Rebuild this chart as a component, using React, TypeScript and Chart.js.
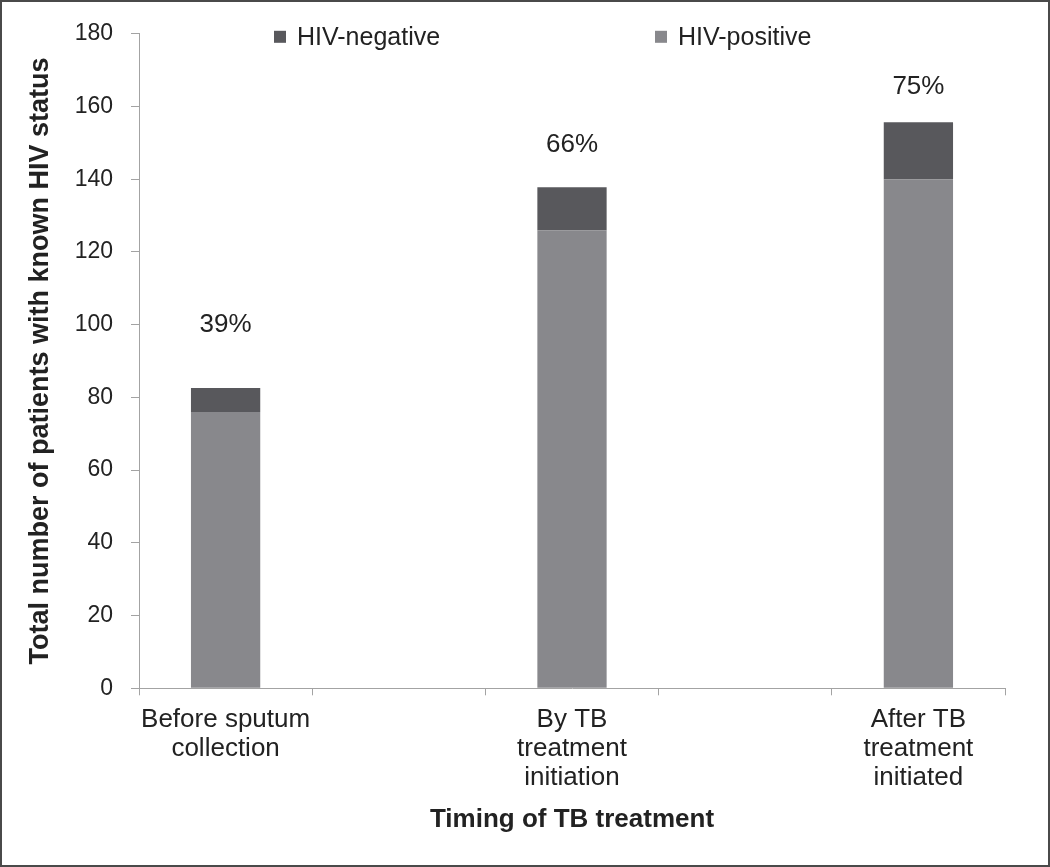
import React, { useEffect, useRef } from "react";
import { Chart, registerables } from "chart.js";

Chart.register(...registerables);

// ---- data ----
const categories: (string | string[])[] = [
  ["Before sputum", "collection"],
  "",
  ["By TB", "treatment", "initiation"],
  "",
  ["After TB", "treatment", "initiated"],
];
const hivPositive = [76, null, 126, null, 140];
const hivNegative = [6.6, null, 11.8, null, 15.7];
const percentLabels = ["39%", "", "66%", "", "75%"];
const percentLabelAt = [100, null, 149.6, null, 165.3];
const yMin = 0;
const yMax = 180;
const yStep = 20;

const POS_COLOR = "#88888c";
const NEG_COLOR = "#58585c";
const AXIS_COLOR = "#a3a3a3";
const TEXT_COLOR = "#222222";
const FONT = "'Liberation Sans', Arial, sans-serif";

const percentPlugin = {
  id: "percentLabels",
  afterDatasetsDraw(chart: any) {
    const { ctx, scales } = chart;
    ctx.save();
    ctx.font = `26px ${FONT}`;
    ctx.fillStyle = TEXT_COLOR;
    ctx.textAlign = "center";
    ctx.textBaseline = "middle";
    percentLabels.forEach((t, i) => {
      const v = percentLabelAt[i];
      if (!t || v == null) return;
      const x = scales.x.getPixelForValue(i);
      const y = scales.y.getPixelForValue(v);
      ctx.fillText(t, x, y);
    });
    ctx.restore();
  },
};

const legendPlugin = {
  id: "customLegend",
  afterDraw(chart: any) {
    const { ctx, chartArea } = chart;
    const ds = chart.data.datasets;
    const items = [
      { text: ds[1].label, color: ds[1].backgroundColor, dx: 135 },
      { text: ds[0].label, color: ds[0].backgroundColor, dx: 516 },
    ];
    const cy = chartArea.top + 3;
    ctx.save();
    ctx.font = `25px ${FONT}`;
    ctx.textAlign = "left";
    ctx.textBaseline = "middle";
    items.forEach((it) => {
      const x = chartArea.left + it.dx;
      ctx.fillStyle = it.color;
      ctx.fillRect(x, cy - 6, 12, 12);
      ctx.fillStyle = TEXT_COLOR;
      ctx.fillText(it.text, x + 23, cy + 1);
    });
    ctx.restore();
  },
};

export default function App() {
  const canvasRef = useRef<HTMLCanvasElement | null>(null);

  useEffect(() => {
    if (!canvasRef.current) return;
    const chart = new Chart(canvasRef.current, {
      type: "bar",
      data: {
        labels: categories as any,
        datasets: [
          {
            label: "HIV-positive",
            data: hivPositive as any,
            backgroundColor: POS_COLOR,
            borderWidth: 0,
            barPercentage: 0.4,
            categoryPercentage: 1,
          },
          {
            label: "HIV-negative",
            data: hivNegative as any,
            backgroundColor: NEG_COLOR,
            borderWidth: 0,
            barPercentage: 0.4,
            categoryPercentage: 1,
          },
        ],
      },
      options: {
        animation: false,
        responsive: true,
        maintainAspectRatio: false,
        devicePixelRatio: 1,
        layout: { padding: { top: 27, right: 43, bottom: 0, left: 0 } },
        plugins: {
          legend: { display: false },
          tooltip: { enabled: false },
          title: { display: false },
        },
        scales: {
          x: {
            stacked: true,
            offset: true,
            grid: {
              display: true,
              offset: true,
              drawOnChartArea: false,
              drawTicks: true,
              tickLength: 7,
              color: AXIS_COLOR,
            },
            border: { display: true, color: AXIS_COLOR, width: 1 },
            ticks: {
              color: TEXT_COLOR,
              font: { family: FONT, size: 26, lineHeight: 1.12 },
              padding: 10,
              maxRotation: 0,
              autoSkip: false,
            },
            title: {
              display: true,
              text: "Timing of TB treatment",
              color: TEXT_COLOR,
              font: { family: FONT, size: 26, weight: "bold" },
              padding: { top: 0, bottom: 30 },
            },
            afterFit(scale: any) {
              scale.height = 176.7;
            },
          },
          y: {
            stacked: true,
            min: yMin,
            max: yMax,
            grid: {
              display: true,
              drawOnChartArea: false,
              drawTicks: true,
              tickLength: 8,
              color: AXIS_COLOR,
            },
            border: { display: true, color: AXIS_COLOR, width: 1 },
            ticks: {
              stepSize: yStep,
              color: TEXT_COLOR,
              font: { family: FONT, size: 23 },
              padding: 18,
            },
            title: {
              display: true,
              text: "Total number of patients with known HIV status",
              color: TEXT_COLOR,
              font: { family: FONT, size: 27, weight: "bold" },
              padding: { top: 22, bottom: 0 },
            },
            afterFit(scale: any) {
              scale.width = 137;
            },
          },
        },
      },
      plugins: [percentPlugin, legendPlugin],
    });
    return () => chart.destroy();
  }, []);

  return (
    <div
      style={{
        position: "absolute",
        left: 0,
        top: 0,
        width: 1050,
        height: 867,
        boxSizing: "border-box",
        border: "2px solid #4a4a4a",
        background: "#ffffff",
      }}
    >
      <div style={{ position: "relative", width: 1046, height: 863 }}>
        <canvas ref={canvasRef} />
      </div>
    </div>
  );
}
